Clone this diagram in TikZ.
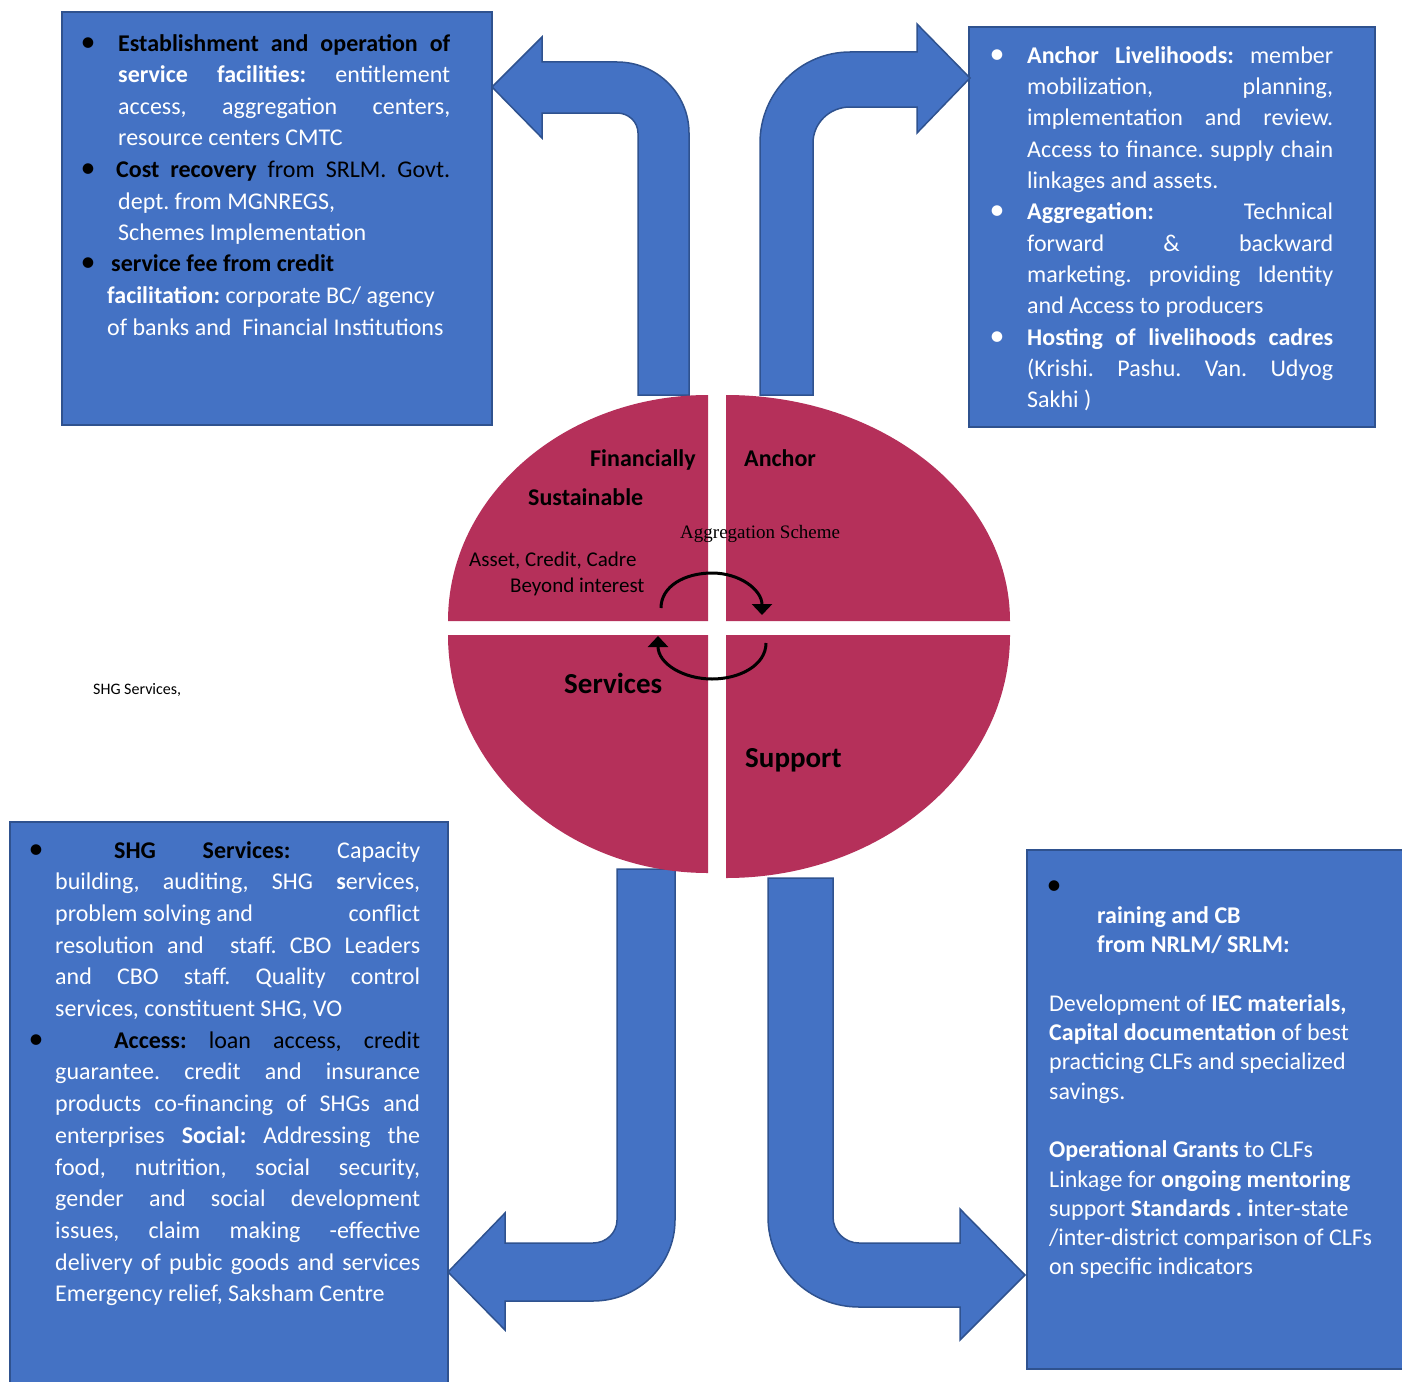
\documentclass[tikz,border=0pt]{standalone}
\usepackage{fontspec}
\setmainfont{Carlito}
\newfontfamily\schemefont{Liberation Serif}
\usetikzlibrary{arrows.meta}
\frenchspacing

\definecolor{panelblue}{RGB}{68,114,196}
\definecolor{paneledge}{RGB}{47,82,143}
\definecolor{piered}{RGB}{181,48,90}

% list helpers: bullet at a horizontal offset, justified line, plain line
\newcommand\bulletmark[2]{\leavevmode\rlap{\hspace*{#2}\makebox[0pt]{\textcolor{#1}{\fontsize{30pt}{30pt}\selectfont\textbullet}}}}
\newcommand\jst[3]{\hspace*{#1}\makebox[#2][s]{#3}}
\newcommand\lft[2]{\hspace*{#1}#2}
\newcommand\bk[1]{\textcolor{black}{#1}}

\tikzset{
  panel/.style={draw=paneledge, line width=2pt, fill=panelblue, inner sep=0pt},
  bentarrow/.style={draw=paneledge, line width=1.5pt, fill=panelblue, line join=miter},
  quarter/.style={fill=piered, draw=none},
  paneltext/.style={inner sep=0pt, anchor=base west, text=white},
  pielab/.style={inner sep=0pt, anchor=base west, text=black},
  cyclearrow/.style={line width=3pt, black, -{Triangle[length=11pt,width=20pt]}}
}

\begin{document}
\begin{tikzpicture}[x=1pt,y=1pt]
\useasboundingbox (0,0) rectangle (1402,-1381);
\fill[white] (0,0) rectangle (1402,-1381);

% ---------- text panels ----------
\node[panel, minimum width=430pt, minimum height=413pt] (tlBox) at (277,-218.5) {};
\node[panel, minimum width=406pt, minimum height=400pt] (trBox) at (1172,-227) {};
\node[panel, minimum width=438pt, minimum height=580pt] (blBox) at (229,-1111.5) {};
\node[panel, minimum width=390pt, minimum height=519pt] (brBox) at (1222,-1109) {};

% ---------- bent block arrows ----------
% upper left
\draw[bentarrow] (638,-395) -- (638,-133)
  arc[start angle=0, end angle=90, x radius=21pt, y radius=20pt]
  -- (542,-113) -- (542,-138) -- (492,-87) -- (542,-37) -- (542,-62) -- (617,-62)
  arc[start angle=90, end angle=0, x radius=72pt, y radius=71pt]
  -- (689,-395) -- cycle;
% upper right
\draw[bentarrow] (760,-395) -- (760,-143)
  arc[start angle=180, end angle=90, x radius=90pt, y radius=91pt]
  -- (917,-52) -- (917,-24) -- (970,-78) -- (917,-133) -- (917,-107) -- (850,-107)
  arc[start angle=90, end angle=180, x radius=37pt, y radius=36pt]
  -- (813,-395) -- cycle;
% lower left
\draw[bentarrow] (617,-869) -- (617,-1220)
  arc[start angle=0, end angle=-90, x radius=24pt, y radius=23pt]
  -- (505,-1243) -- (505,-1213) -- (448,-1272) -- (505,-1330) -- (505,-1301) -- (593,-1301)
  arc[start angle=-90, end angle=0, x radius=82pt, y radius=81pt]
  -- (675,-869) -- cycle;
% lower right
\draw[bentarrow] (768,-878) -- (768,-1217)
  arc[start angle=180, end angle=270, x radius=91pt, y radius=90pt]
  -- (960,-1307) -- (960,-1340) -- (1025,-1275) -- (960,-1209) -- (960,-1243) -- (859,-1243)
  arc[start angle=270, end angle=180, x radius=26pt, y radius=26pt]
  -- (833,-878) -- cycle;

% ---------- four-part disc ----------
\fill[quarter] (708,-621) -- (448,-621) arc[start angle=180, end angle=90, x radius=260pt, y radius=226pt] -- cycle;
\fill[quarter] (726,-621) -- (726,-395) arc[start angle=90, end angle=0, x radius=284pt, y radius=226pt] -- cycle;
\fill[quarter] (708,-635) -- (448,-635) arc[start angle=180, end angle=270, x radius=260pt, y radius=238pt] -- cycle;
\fill[quarter] (726,-635) -- (726,-878) arc[start angle=270, end angle=360, x radius=284pt, y radius=243pt] -- cycle;

% cycle arrows across the centre
\draw[cyclearrow] (661,-608) .. controls (661,-586) and (685,-573) .. (712,-573)
  .. controls (740,-573) and (762,-590) .. (762,-615);
\draw[cyclearrow] (766,-643) .. controls (766,-665) and (740,-679) .. (712,-679)
  .. controls (684,-679) and (658,-664) .. (658,-636);

% disc labels
\node[pielab, font=\fontsize{24pt}{28pt}\selectfont\bfseries] (finLbl) at (590,-466) {Financially};
\node[pielab, font=\fontsize{24pt}{28pt}\selectfont\bfseries] (susLbl) at (528,-505) {Sustainable};
\node[pielab, font=\fontsize{24pt}{28pt}\selectfont\bfseries] (ancLbl) at (744,-466) {Anchor};
\node[pielab, font=\fontsize{19pt}{22pt}\selectfont\schemefont] (aggLbl) at (680,-538) {Aggregation Scheme};
\node[pielab, font=\fontsize{21pt}{25pt}\selectfont] (assLbl) at (469,-566) {Asset, Credit, Cadre};
\node[pielab, font=\fontsize{21pt}{25pt}\selectfont] (beyLbl) at (510,-592) {Beyond interest};
\node[pielab, font=\fontsize{29pt}{33pt}\selectfont\bfseries] (serLbl) at (564,-693) {Services};
\node[pielab, font=\fontsize{29pt}{33pt}\selectfont\bfseries] (supLbl) at (745,-767) {Support};

% stray caption on the left
\node[pielab, font=\fontsize{16pt}{19pt}\selectfont] (shgLbl) at (93,-694) {SHG Services,};

% ---------- panel contents ----------
\node[paneltext] (tlText) at (107,-51.5) {\parbox[t]{400pt}{\fontsize{24pt}{31.5pt}\selectfont
\bulletmark{black}{-19pt}\jst{11pt}{332pt}{\bk{\bfseries Establishment and operation of}}\\
\jst{11pt}{332pt}{\textbf{service facilities:} entitlement}\\
\jst{11pt}{332pt}{access, aggregation centers,}\\
\lft{11pt}{resource centers CMTC}\\
\bulletmark{black}{-19pt}\jst{9pt}{334pt}{\bk{\textbf{Cost recovery} from SRLM. Govt.}}\\
\lft{11pt}{dept. from MGNREGS,}\\
\lft{11pt}{Schemes Implementation}\\
\bulletmark{black}{-19pt}\lft{4pt}{\bk{\textbf{service fee from credit}}}\\
\lft{0pt}{\textbf{facilitation:} corporate BC/ agency}\\
\lft{0pt}{of banks and\ \ Financial Institutions}}};

\node[paneltext] (trText) at (1027,-63.3) {\parbox[t]{340pt}{\fontsize{24pt}{31.3pt}\selectfont
\bulletmark{white}{-30pt}\jst{0pt}{306pt}{\textbf{Anchor Livelihoods:} member}\\
\jst{0pt}{306pt}{mobilization, planning,}\\
\jst{0pt}{306pt}{implementation and review.}\\
\jst{0pt}{306pt}{Access to finance. supply chain}\\
\lft{0pt}{linkages and assets.}\\
\bulletmark{white}{-30pt}\jst{0pt}{306pt}{\textbf{Aggregation:} Technical}\\
\jst{0pt}{306pt}{forward \& backward}\\
\jst{0pt}{306pt}{marketing. providing Identity}\\
\lft{0pt}{and Access to producers}\\
\bulletmark{white}{-30pt}\jst{0pt}{306pt}{\textbf{Hosting of livelihoods cadres}}\\
\jst{0pt}{306pt}{(Krishi. Pashu. Van. Udyog}\\
\lft{0pt}{Sakhi )}}};

\node[paneltext] (blText) at (55,-858) {\parbox[t]{380pt}{\fontsize{24pt}{31.7pt}\selectfont
\bulletmark{black}{-19pt}\jst{59pt}{306pt}{\bk{\textbf{SHG Services:}} Capacity}\\
\jst{0pt}{365pt}{building, auditing, SHG \textbf{s}ervices,}\\
\makebox[365pt][l]{problem solving and\hfill conflict}\\
\jst{0pt}{365pt}{resolution and\ \ staff. CBO Leaders}\\
\jst{0pt}{365pt}{and CBO staff. Quality control}\\
\lft{0pt}{services, constituent SHG, VO}\\
\bulletmark{black}{-19pt}\jst{59pt}{306pt}{\bk{\textbf{Access:} loan access, credit}}\\
\jst{0pt}{365pt}{guarantee. credit and insurance}\\
\jst{0pt}{365pt}{products co-financing of SHGs and}\\
\jst{0pt}{365pt}{enterprises \textbf{Social:} Addressing the}\\
\jst{0pt}{365pt}{food, nutrition, social security,}\\
\jst{0pt}{365pt}{gender and social development}\\
\jst{0pt}{365pt}{issues, claim making -effective}\\
\jst{0pt}{365pt}{delivery of pubic goods and services}\\
\lft{0pt}{Emergency relief, Saksham Centre}}};

\node[paneltext] (brText) at (1049,-894) {\parbox[t]{345pt}{\fontsize{24pt}{29.3pt}\selectfont
\bulletmark{black}{5pt}\\
\lft{48pt}{\textbf{raining and CB}}\\
\lft{48pt}{\textbf{from NRLM/ SRLM:}}\\
\mbox{}\\
Development of \textbf{IEC materials,}\\
\textbf{Capital documentation} of best\\
practicing CLFs and specialized\\
savings.\\
\mbox{}\\
\textbf{Operational Grants} to CLFs\\
Linkage for \textbf{ongoing mentoring}\\
support \textbf{Standards . i}nter-state\\
/inter-district comparison of CLFs\\
on specific indicators}};

\end{tikzpicture}
\end{document}
